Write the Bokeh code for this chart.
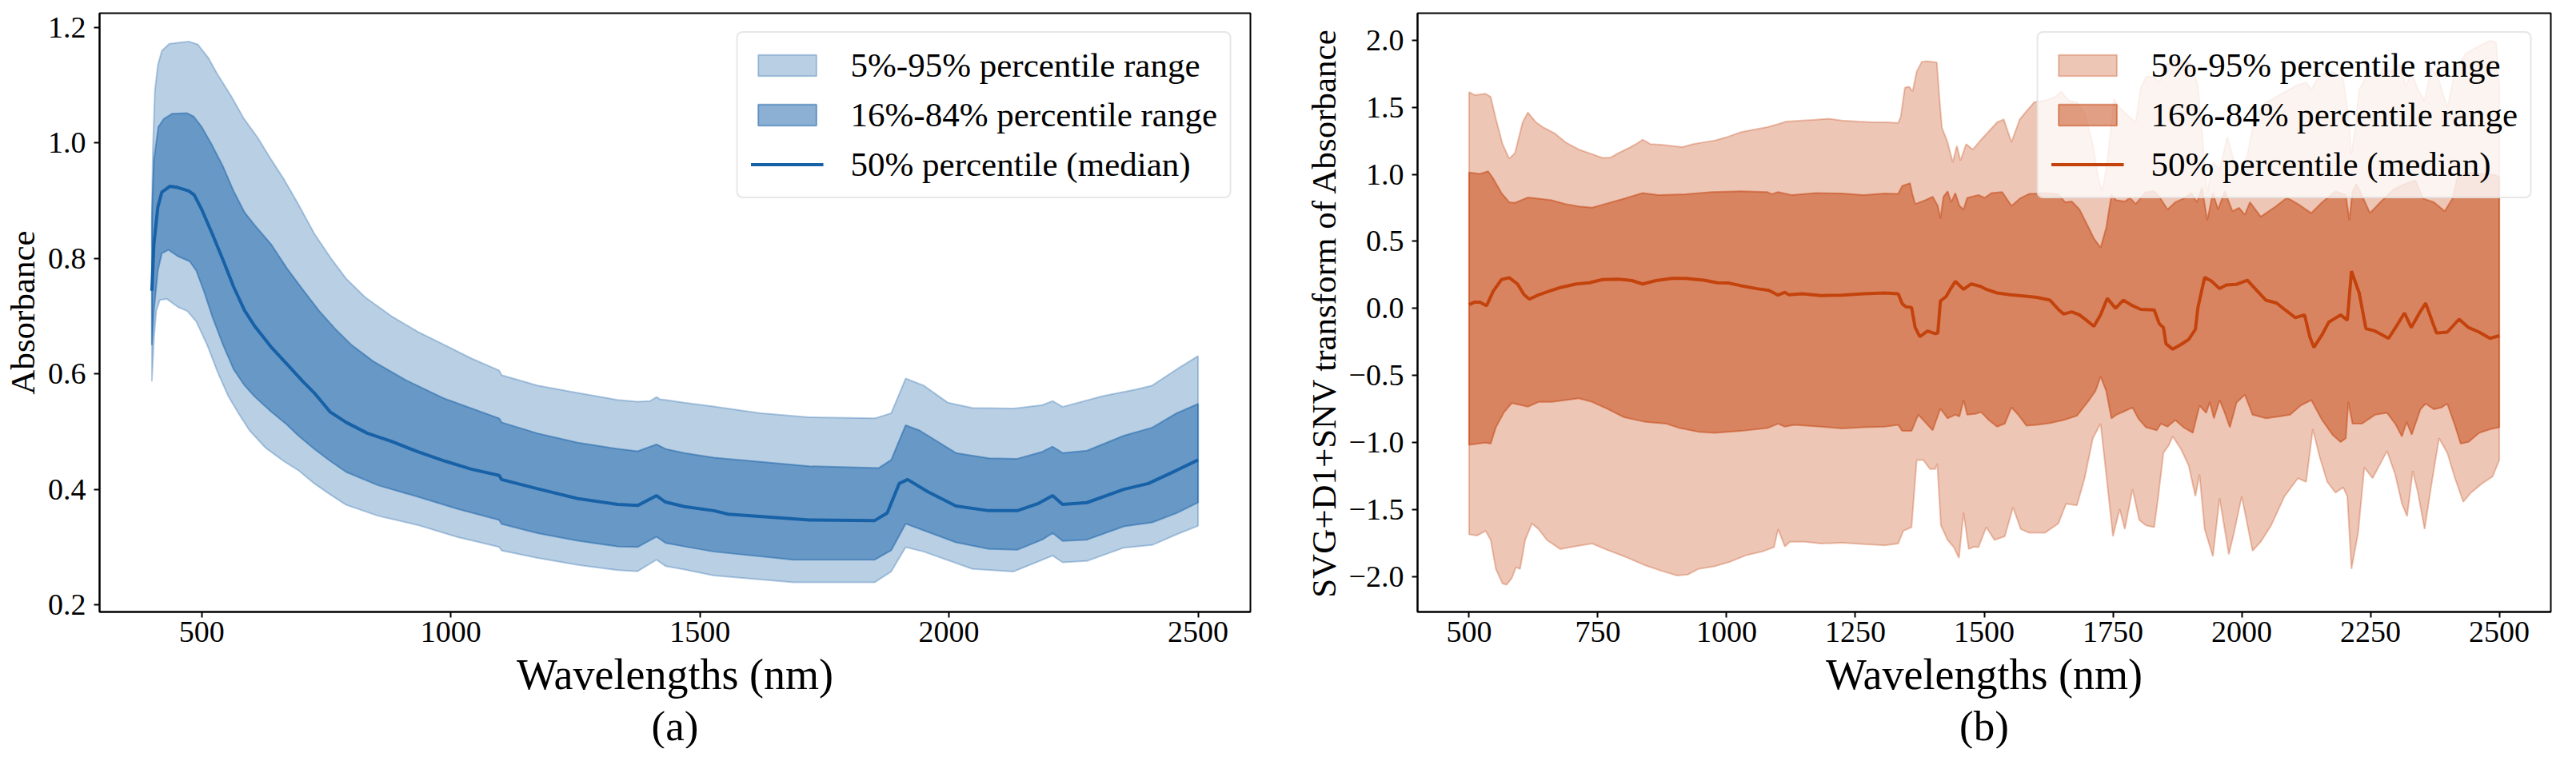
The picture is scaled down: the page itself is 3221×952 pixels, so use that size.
from bokeh.plotting import figure
from bokeh.layouts import row
from bokeh.models import Range1d, FixedTicker, Title, CustomJSTickFormatter
from bokeh.embed import file_html
from bokeh.resources import INLINE

# ---------------- Panel (a): raw absorbance percentiles ----------------
a_p95_wl = [400, 402, 406, 412, 420, 435, 455, 474, 492, 513, 531, 558, 585, 612, 639, 666, 694, 726, 758, 790, 828, 881, 934, 988, 1041, 1097, 1102, 1174, 1255, 1335, 1375, 1400, 1413, 1420, 1431, 1469, 1528, 1620, 1720, 1851, 1884, 1913, 1949, 1998, 2047, 2129, 2187, 2208, 2228, 2310, 2375, 2408, 2457, 2500]
a_p95 = [0.89, 0.99, 1.09, 1.135, 1.16, 1.172, 1.174, 1.176, 1.171, 1.148, 1.12, 1.083, 1.042, 1.01, 0.972, 0.936, 0.894, 0.843, 0.802, 0.765, 0.733, 0.700, 0.673, 0.650, 0.627, 0.606, 0.598, 0.580, 0.567, 0.555, 0.552, 0.553, 0.560, 0.556, 0.555, 0.550, 0.5435, 0.532, 0.525, 0.523, 0.532, 0.592, 0.58, 0.55, 0.541, 0.54, 0.546, 0.553, 0.543, 0.562, 0.573, 0.58, 0.608, 0.631]

a_p84_wl = [400, 404, 413, 424, 441, 470, 484, 500, 521, 543, 564, 586, 607, 639, 671, 703, 735, 768, 801, 844, 908, 988, 1097, 1102, 1174, 1255, 1335, 1375, 1413, 1431, 1469, 1528, 1720, 1859, 1884, 1913, 1941, 2014, 2080, 2137, 2187, 2208, 2228, 2277, 2351, 2408, 2457, 2500]
a_p84 = [0.87, 0.97, 1.028, 1.042, 1.051, 1.052, 1.046, 1.028, 0.996, 0.959, 0.917, 0.880, 0.857, 0.825, 0.783, 0.746, 0.710, 0.678, 0.650, 0.622, 0.590, 0.557, 0.523, 0.516, 0.497, 0.481, 0.470, 0.466, 0.478, 0.470, 0.463, 0.455, 0.44, 0.437, 0.451, 0.511, 0.502, 0.463, 0.454, 0.453, 0.465, 0.474, 0.463, 0.467, 0.493, 0.507, 0.532, 0.548]

a_p50_wl = [400, 404, 412, 420, 436, 452, 474, 485, 500, 521, 543, 564, 586, 607, 639, 671, 703, 726, 758, 790, 833, 881, 934, 988, 1041, 1097, 1102, 1174, 1255, 1335, 1375, 1413, 1431, 1469, 1528, 1557, 1720, 1851, 1876, 1900, 1917, 1957, 2014, 2080, 2137, 2178, 2208, 2228, 2277, 2351, 2400, 2457, 2500]
a_p50 = [0.744, 0.825, 0.889, 0.915, 0.925, 0.923, 0.917, 0.910, 0.885, 0.843, 0.797, 0.751, 0.710, 0.682, 0.647, 0.617, 0.587, 0.567, 0.534, 0.516, 0.497, 0.483, 0.465, 0.449, 0.435, 0.424, 0.417, 0.401, 0.384, 0.374, 0.372, 0.389, 0.378, 0.370, 0.363, 0.357, 0.347, 0.346, 0.359, 0.41, 0.417, 0.396, 0.371, 0.363, 0.363, 0.375, 0.389, 0.374, 0.377, 0.40, 0.41, 0.433, 0.451]

a_p16_wl = [400, 404, 412, 420, 433, 452, 476, 489, 505, 521, 543, 564, 586, 607, 639, 671, 694, 726, 758, 790, 854, 934, 1014, 1097, 1102, 1174, 1255, 1335, 1375, 1413, 1431, 1469, 1528, 1688, 1851, 1884, 1913, 1949, 2014, 2080, 2137, 2187, 2208, 2228, 2277, 2351, 2408, 2457, 2500]
a_p16 = [0.65, 0.71, 0.779, 0.809, 0.815, 0.804, 0.795, 0.779, 0.742, 0.700, 0.650, 0.608, 0.580, 0.560, 0.535, 0.512, 0.493, 0.470, 0.449, 0.430, 0.407, 0.387, 0.366, 0.347, 0.340, 0.324, 0.311, 0.301, 0.300, 0.318, 0.307, 0.301, 0.292, 0.2781, 0.2781, 0.2943, 0.3404, 0.3289, 0.3081, 0.2966, 0.2952, 0.3127, 0.3243, 0.3104, 0.3127, 0.3358, 0.3427, 0.3589, 0.3773]

a_p5_wl = [400, 404, 409, 416, 430, 452, 471, 489, 511, 532, 553, 575, 596, 628, 666, 694, 726, 758, 790, 854, 934, 1014, 1097, 1102, 1174, 1255, 1335, 1375, 1413, 1431, 1469, 1528, 1688, 1851, 1884, 1913, 1949, 2047, 2129, 2208, 2228, 2277, 2351, 2408, 2457, 2500]
a_p5 = [0.587, 0.66, 0.71, 0.728, 0.730, 0.716, 0.709, 0.691, 0.650, 0.603, 0.562, 0.530, 0.502, 0.472, 0.448, 0.433, 0.410, 0.391, 0.373, 0.354, 0.338, 0.317, 0.300, 0.294, 0.281, 0.269, 0.260, 0.258, 0.278, 0.267, 0.261, 0.2505, 0.239, 0.239, 0.2574, 0.2998, 0.292, 0.262, 0.2574, 0.285, 0.2735, 0.2758, 0.2989, 0.3035, 0.322, 0.3367]

# ---------------- Panel (b): SVG+D1+SNV transformed percentiles ----------------
b_p95_wl = [500, 511, 532, 542, 552, 565, 578, 589, 604, 614, 630, 645, 666, 687, 713, 739, 759, 775, 790, 811, 824, 837, 852, 873, 894, 914, 935, 956, 977, 1002, 1028, 1054, 1079, 1100, 1116, 1147, 1173, 1198, 1224, 1255, 1286, 1312, 1333, 1338, 1346, 1354, 1361, 1369, 1379, 1390, 1408, 1413, 1418, 1429, 1439, 1447, 1454, 1465, 1478, 1494, 1509, 1525, 1538, 1553, 1569, 1582, 1597, 1618, 1638, 1649, 1664, 1680, 1695, 1711, 1721, 1729, 1739, 1752, 1763, 1778, 1794, 1804, 1814, 1830, 1840, 1851, 1866, 1887, 1902, 1915, 1923, 1933, 1944, 1957, 1972, 1985, 1995, 2011, 2026, 2047, 2073, 2104, 2125, 2135, 2151, 2176, 2197, 2207, 2213, 2220, 2228, 2244, 2264, 2275, 2290, 2306, 2319, 2329, 2342, 2355, 2368, 2383, 2399, 2414, 2435, 2461, 2482, 2494, 2500]
b_p95 = [1.612, 1.59, 1.60, 1.577, 1.414, 1.225, 1.117, 1.158, 1.387, 1.461, 1.387, 1.347, 1.306, 1.239, 1.185, 1.15, 1.122, 1.125, 1.158, 1.198, 1.225, 1.258, 1.225, 1.22, 1.212, 1.203, 1.225, 1.239, 1.252, 1.279, 1.314, 1.333, 1.352, 1.374, 1.393, 1.401, 1.406, 1.414, 1.401, 1.393, 1.387, 1.387, 1.382, 1.428, 1.645, 1.653, 1.618, 1.766, 1.839, 1.842, 1.834, 1.577, 1.347, 1.239, 1.09, 1.212, 1.103, 1.225, 1.185, 1.258, 1.32, 1.387, 1.409, 1.239, 1.409, 1.469, 1.536, 1.55, 1.577, 1.618, 1.55, 1.536, 1.455, 1.225, 0.982, 0.873, 1.09, 1.563, 1.496, 1.442, 1.387, 1.645, 1.726, 1.726, 1.685, 1.807, 1.847, 1.847, 1.82, 1.658, 1.306, 0.86, 1.09, 1.036, 1.279, 1.10, 0.982, 1.144, 1.442, 1.536, 1.59, 1.658, 1.685, 1.631, 1.739, 1.766, 1.712, 1.442, 1.144, 1.347, 1.631, 1.739, 1.712, 1.793, 1.766, 1.82, 1.658, 1.766, 1.631, 1.55, 1.793, 1.699, 1.496, 1.766, 1.902, 1.956, 1.996, 1.983, 1.66]

b_p84_wl = [500, 521, 537, 547, 563, 578, 589, 614, 635, 661, 687, 713, 739, 764, 801, 837, 868, 920, 971, 1028, 1079, 1087, 1100, 1126, 1173, 1224, 1266, 1307, 1333, 1341, 1356, 1361, 1366, 1385, 1400, 1410, 1415, 1421, 1429, 1436, 1444, 1452, 1460, 1467, 1478, 1489, 1501, 1514, 1535, 1553, 1569, 1587, 1618, 1644, 1657, 1670, 1685, 1701, 1713, 1726, 1737, 1747, 1757, 1773, 1783, 1794, 1814, 1830, 1840, 1856, 1871, 1887, 1902, 1913, 1923, 1933, 1944, 1954, 1967, 1982, 1995, 2006, 2016, 2037, 2063, 2088, 2109, 2135, 2156, 2182, 2202, 2209, 2215, 2223, 2233, 2249, 2269, 2295, 2316, 2337, 2352, 2373, 2394, 2409, 2419, 2440, 2466, 2492, 2500]
b_p84 = [1.014, 1.003, 1.022, 0.968, 0.86, 0.792, 0.787, 0.827, 0.819, 0.806, 0.779, 0.76, 0.752, 0.779, 0.819, 0.86, 0.846, 0.852, 0.868, 0.873, 0.868, 0.852, 0.868, 0.846, 0.86, 0.857, 0.846, 0.857, 0.854, 0.914, 0.933, 0.846, 0.779, 0.806, 0.833, 0.765, 0.671, 0.833, 0.873, 0.792, 0.86, 0.765, 0.738, 0.825, 0.835, 0.846, 0.825, 0.86, 0.868, 0.765, 0.819, 0.854, 0.86, 0.852, 0.792, 0.798, 0.738, 0.616, 0.522, 0.454, 0.603, 0.846, 0.806, 0.798, 0.825, 0.779, 0.868, 0.873, 0.833, 0.738, 0.792, 0.819, 0.86, 0.792, 0.9, 0.657, 0.86, 0.738, 0.873, 0.725, 0.75, 0.698, 0.792, 0.684, 0.752, 0.825, 0.779, 0.711, 0.792, 0.873, 0.846, 0.657, 0.873, 0.927, 0.846, 0.711, 0.792, 0.887, 0.927, 0.954, 0.819, 0.792, 0.725, 0.819, 0.982, 1.009, 1.003, 0.995, 0.98]

b_p50_wl = [500, 511, 521, 534, 547, 563, 578, 594, 607, 617, 635, 656, 677, 708, 733, 759, 790, 816, 837, 863, 894, 920, 956, 982, 1003, 1028, 1059, 1082, 1100, 1113, 1121, 1147, 1183, 1224, 1266, 1307, 1333, 1341, 1348, 1359, 1366, 1375, 1390, 1405, 1410, 1415, 1426, 1435, 1444, 1460, 1475, 1493, 1504, 1525, 1551, 1576, 1602, 1628, 1644, 1654, 1670, 1685, 1701, 1713, 1726, 1739, 1755, 1770, 1788, 1804, 1830, 1840, 1848, 1853, 1866, 1882, 1897, 1910, 1915, 1928, 1941, 1957, 1970, 1990, 2011, 2026, 2047, 2068, 2083, 2104, 2122, 2132, 2140, 2156, 2169, 2192, 2205, 2213, 2228, 2241, 2259, 2285, 2301, 2316, 2329, 2347, 2357, 2378, 2399, 2422, 2440, 2461, 2482, 2500]
b_p50 = [0.029, 0.048, 0.048, 0.021, 0.13, 0.216, 0.23, 0.183, 0.102, 0.07, 0.102, 0.13, 0.156, 0.183, 0.192, 0.216, 0.219, 0.208, 0.183, 0.208, 0.224, 0.224, 0.211, 0.192, 0.19, 0.17, 0.148, 0.135, 0.10, 0.121, 0.102, 0.11, 0.097, 0.10, 0.11, 0.116, 0.11, 0.035, 0.013, 0.008, -0.141, -0.209, -0.168, -0.187, -0.182, 0.056, 0.089, 0.148, 0.202, 0.143, 0.183, 0.165, 0.143, 0.116, 0.102, 0.094, 0.083, 0.062, -0.006, -0.041, -0.025, -0.047, -0.095, -0.133, -0.047, 0.075, 0.002, 0.062, 0.021, -0.006, -0.011, -0.114, -0.141, -0.263, -0.303, -0.268, -0.23, -0.155, 0.008, 0.232, 0.205, 0.148, 0.175, 0.18, 0.211, 0.148, 0.062, 0.04, -0.006, -0.068, -0.047, -0.209, -0.29, -0.195, -0.101, -0.047, -0.087, 0.278, 0.116, -0.149, -0.168, -0.222, -0.127, -0.033, -0.141, -0.02, 0.04, -0.182, -0.176, -0.079, -0.141, -0.176, -0.222, -0.203]

b_p16_wl = [500, 532, 542, 552, 568, 583, 599, 614, 635, 661, 687, 713, 739, 770, 801, 842, 883, 909, 945, 977, 1028, 1079, 1100, 1113, 1131, 1183, 1224, 1266, 1307, 1333, 1341, 1359, 1372, 1385, 1400, 1415, 1429, 1444, 1452, 1460, 1467, 1483, 1494, 1509, 1525, 1540, 1553, 1566, 1582, 1602, 1628, 1654, 1680, 1701, 1716, 1726, 1737, 1747, 1757, 1773, 1788, 1799, 1814, 1835, 1843, 1856, 1871, 1887, 1905, 1918, 1931, 1938, 1946, 1957, 1967, 1977, 1990, 2006, 2021, 2047, 2073, 2094, 2114, 2135, 2156, 2176, 2192, 2202, 2207, 2215, 2233, 2259, 2282, 2298, 2311, 2320, 2330, 2347, 2357, 2373, 2388, 2399, 2414, 2425, 2440, 2461, 2482, 2500]
b_p16 = [-1.015, -0.999, -1.007, -0.885, -0.772, -0.704, -0.718, -0.731, -0.696, -0.696, -0.682, -0.669, -0.696, -0.75, -0.81, -0.845, -0.858, -0.891, -0.918, -0.926, -0.912, -0.891, -0.858, -0.88, -0.866, -0.88, -0.893, -0.885, -0.88, -0.866, -0.912, -0.912, -0.791, -0.845, -0.907, -0.745, -0.818, -0.791, -0.804, -0.682, -0.791, -0.785, -0.772, -0.831, -0.88, -0.858, -0.737, -0.791, -0.872, -0.866, -0.853, -0.831, -0.799, -0.696, -0.615, -0.506, -0.615, -0.818, -0.791, -0.764, -0.737, -0.818, -0.885, -0.907, -0.858, -0.88, -0.831, -0.885, -0.926, -0.723, -0.777, -0.696, -0.818, -0.682, -0.777, -0.885, -0.70, -0.642, -0.791, -0.818, -0.804, -0.791, -0.723, -0.682, -0.831, -0.939, -0.994, -0.966, -0.696, -0.858, -0.858, -0.791, -0.777, -0.858, -0.953, -0.845, -0.939, -0.75, -0.709, -0.75, -0.737, -0.709, -0.872, -1.007, -0.994, -0.926, -0.899, -0.885]

b_p5_wl = [500, 516, 532, 542, 552, 565, 573, 583, 591, 599, 609, 622, 635, 651, 677, 697, 718, 739, 764, 801, 842, 873, 904, 925, 945, 977, 1007, 1038, 1069, 1092, 1100, 1113, 1123, 1152, 1183, 1224, 1266, 1307, 1333, 1343, 1359, 1369, 1382, 1395, 1405, 1409, 1416, 1429, 1441, 1451, 1460, 1470, 1480, 1489, 1504, 1520, 1540, 1556, 1571, 1587, 1618, 1644, 1659, 1680, 1695, 1711, 1726, 1737, 1750, 1763, 1773, 1788, 1801, 1814, 1830, 1838, 1848, 1858, 1866, 1882, 1897, 1910, 1918, 1928, 1944, 1957, 1975, 1985, 2000, 2021, 2037, 2057, 2083, 2109, 2125, 2138, 2151, 2166, 2182, 2197, 2205, 2213, 2226, 2238, 2254, 2269, 2282, 2298, 2311, 2321, 2332, 2342, 2355, 2368, 2383, 2399, 2414, 2430, 2445, 2466, 2487, 2500]
b_p5 = [-1.683, -1.691, -1.656, -1.724, -1.94, -2.049, -2.057, -2.008, -1.927, -1.94, -1.724, -1.602, -1.643, -1.724, -1.792, -1.778, -1.764, -1.751, -1.792, -1.846, -1.913, -1.954, -1.989, -1.981, -1.94, -1.92, -1.886, -1.838, -1.811, -1.778, -1.643, -1.773, -1.737, -1.737, -1.751, -1.745, -1.756, -1.764, -1.751, -1.656, -1.629, -1.129, -1.129, -1.196, -1.196, -1.156, -1.616, -1.724, -1.778, -1.859, -1.521, -1.792, -1.775, -1.778, -1.629, -1.724, -1.697, -1.481, -1.643, -1.67, -1.67, -1.602, -1.454, -1.467, -1.264, -0.966, -0.858, -1.237, -1.697, -1.494, -1.643, -1.345, -1.575, -1.616, -1.629, -1.399, -1.075, -1.021, -0.953, -1.047, -1.169, -1.399, -1.237, -1.643, -1.846, -1.413, -1.832, -1.67, -1.399, -1.805, -1.737, -1.616, -1.399, -1.264, -1.291, -0.899, -1.102, -1.291, -1.372, -1.332, -1.399, -1.94, -1.67, -1.183, -1.264, -1.156, -1.061, -1.237, -1.454, -1.548, -1.21, -1.372, -1.643, -1.318, -0.966, -1.075, -1.264, -1.44, -1.372, -1.305, -1.251, -1.129]

x_ticks_a = [500, 1000, 1500, 2000, 2500]
y_ticks_a = [0.2, 0.4, 0.6, 0.8, 1.0, 1.2]
x_ticks_b = [500, 750, 1000, 1250, 1500, 1750, 2000, 2250, 2500]
y_ticks_b = [-2.0, -1.5, -1.0, -0.5, 0.0, 0.5, 1.0, 1.5, 2.0]

legend_labels = ["5%-95% percentile range", "16%-84% percentile range", "50% percentile (median)"]

FONT = "Liberation Serif"
BLUE = "#1761a7"
ORANGE = "#c4420c"

fmt1 = CustomJSTickFormatter(code="return tick.toFixed(1).replace('-', '\u2212');")


def band(xu, yu, xl, yl):
    return list(xu) + list(reversed(xl)), list(yu) + list(reversed(yl))


def make_panel(color, p95w, p95, p84w, p84, p50w, p50, p16w, p16, p5w, p5,
               xr, yr, xt, yt, ylabel, caption, width, bl, br):
    p = figure(width=width, height=936, output_backend="svg", toolbar_location=None,
               x_range=Range1d(*xr), y_range=Range1d(*yr), title_location=None,
               min_border_left=bl, min_border_right=br, min_border_top=16, min_border_bottom=171)
    p.grid.visible = False
    p.outline_line_color = "black"
    p.outline_line_width = 2
    p.outline_line_alpha = 1.0

    xo, yo = band(p95w, p95, p5w, p5)
    p.patch(xo, yo, fill_color=color, fill_alpha=0.3, line_color=color, line_alpha=0.3,
            line_width=2, legend_label=legend_labels[0])
    xi, yi = band(p84w, p84, p16w, p16)
    p.patch(xi, yi, fill_color=color, fill_alpha=0.5, line_color=color, line_alpha=0.5,
            line_width=2, legend_label=legend_labels[1])
    p.line(p50w, p50, line_color=color, line_width=4, legend_label=legend_labels[2])

    for ax in (p.xaxis[0], p.yaxis[0]):
        ax.major_tick_in = 0
        ax.major_tick_out = 7
        ax.major_tick_line_width = 2
        ax.minor_tick_line_color = None
        ax.axis_line_width = 2
        ax.major_label_text_font = FONT
        ax.major_label_text_font_size = "38px"
        ax.major_label_text_color = "black"
        ax.axis_label_text_font = FONT
        ax.axis_label_text_font_style = "normal"
        ax.axis_label_text_color = "black"

    p.xaxis.ticker = FixedTicker(ticks=xt)
    p.yaxis.ticker = FixedTicker(ticks=yt)
    p.yaxis.formatter = fmt1
    p.xaxis.major_label_standoff = 5
    p.yaxis.major_label_standoff = 10
    p.xaxis.axis_label = "Wavelengths (nm)"
    p.xaxis.axis_label_text_font_size = "54px"
    p.xaxis.axis_label_standoff = 8
    p.yaxis.axis_label = ylabel
    p.yaxis.axis_label_text_font_size = "43px"
    p.yaxis.axis_label_standoff = 5

    cap = Title(text=caption, align="center", text_font=FONT, text_font_size="53px",
                text_font_style="normal", text_color="black", standoff=0)
    p.add_layout(cap, "below")

    lg = p.legend[0]
    lg.location = "top_right"
    lg.margin = 23
    lg.padding = 16
    lg.spacing = 13
    lg.glyph_width = 91
    lg.glyph_height = 33
    lg.label_standoff = 34
    lg.label_text_font = FONT
    lg.label_text_font_size = "43px"
    lg.label_text_color = "black"
    lg.border_line_color = "#d0d0d0"
    lg.border_line_width = 2
    lg.background_fill_color = "white"
    lg.background_fill_alpha = 0.8
    try:
        lg.border_radius = 8
    except Exception:
        pass
    return p


pa = make_panel(BLUE, a_p95_wl, a_p95, a_p84_wl, a_p84, a_p50_wl, a_p50, a_p16_wl, a_p16, a_p5_wl, a_p5,
                (295, 2605), (0.1876, 1.225), x_ticks_a, y_ticks_a, "Absorbance", "(a)", 1600, 124, 37)
pb = make_panel(ORANGE, b_p95_wl, b_p95, b_p84_wl, b_p84, b_p50_wl, b_p50, b_p16_wl, b_p16, b_p5_wl, b_p5,
                (400, 2600), (-2.26, 2.2), x_ticks_b, y_ticks_b, "SVG+D1+SNV transform of Absorbance", "(b)", 1605, 172, 16)

layout = row(pa, pb)
open("out.html", "w").write(file_html(layout, INLINE))
